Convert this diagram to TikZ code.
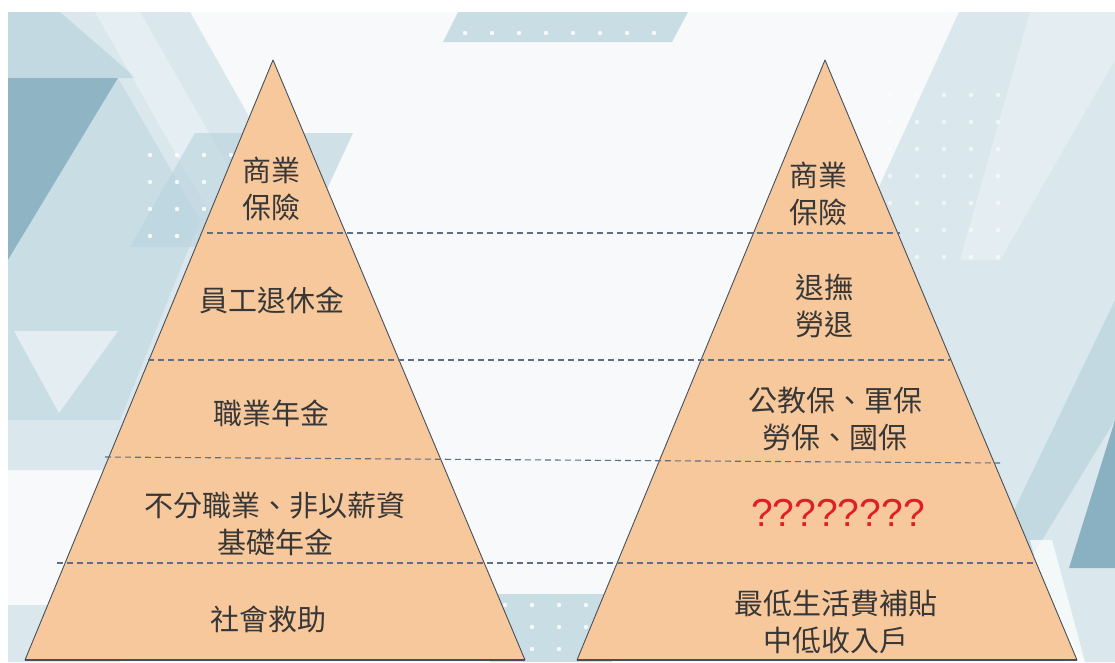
\documentclass[tikz,border=0pt]{standalone}
\usepackage{fontspec}
\setmainfont{Liberation Sans}
\newfontfamily\cjk{Noto Sans CJK TC}
\definecolor{peach}{RGB}{247,200,156}
\definecolor{edgec}{RGB}{70,80,92}
\definecolor{dashc}{RGB}{95,110,130}
\definecolor{txt}{RGB}{55,55,55}
\definecolor{qred}{RGB}{225,30,35}
\definecolor{bgA}{RGB}{218,232,238}
\definecolor{bgB}{RGB}{186,212,222}
\definecolor{bgC}{RGB}{125,168,186}
\definecolor{bgbase}{RGB}{247,249,250}
\begin{document}
\begin{tikzpicture}[x=1pt,y=-1pt,
  pyr/.style={fill=peach,draw=edgec,line width=0.9pt,line join=round},
  basel/.style={draw=edgec,line width=2pt},
  lvl/.style={draw=dashc,line width=1.1pt,dash pattern=on 6pt off 4pt},
  lab/.style={font=\cjk\fontsize{29}{37}\selectfont,text=txt,align=center,inner sep=0pt},
  qlab/.style={font=\fontsize{39}{44}\selectfont,text=qred,inner sep=0pt},
  dotc/.style={fill=white,opacity=0.85}
]
\useasboundingbox (0,0) rectangle (1115,662);
\fill[white] (0,0) rectangle (1115,662);
\fill[bgbase] (8,12) rectangle (1115,662);
% ---- background, left
\fill[bgA] (8,12) -- (190,12) -- (330,260) -- (210,470) -- (8,470) -- cycle;
\fill[bgB,opacity=0.7] (8,12) -- (60,12) -- (136,78) -- (8,78) -- cycle;
\fill[bgC,opacity=0.8] (8,78) -- (118,78) -- (8,260) -- cycle;
\fill[white,opacity=0.3] (95,12) -- (140,12) -- (310,310) -- (265,310) -- cycle;
\fill[bgB,opacity=0.5] (8,260) -- (118,78) -- (200,220) -- (120,420) -- (8,420) -- cycle;
\fill[white,opacity=0.5] (14,331) -- (118,331) -- (59,413) -- cycle;
\fill[bgA] (8,605) -- (140,605) -- (120,662) -- (8,662) -- cycle;
\fill[bgB,opacity=0.65] (195,133) -- (353,133) -- (300,247) -- (130,247) -- cycle;
\foreach \i in {0,...,6} \foreach \j in {0,...,3}
  \fill[dotc] (150+\i*27,155+\j*27) circle (2.2pt);
% ---- top banner
\fill[bgB,opacity=0.75] (458,12) -- (688,12) -- (672,42) -- (443,42) -- cycle;
\foreach \i in {0,...,7} \fill[dotc] (465+\i*27,33) circle (2.2pt);
% ---- right
\fill[bgA] (959,12) -- (1115,12) -- (1115,662) -- (1085,662) -- (940,420) -- (866,215) -- cycle;
\fill[white,opacity=0.25] (1030,12) -- (1115,12) -- (1115,60) -- (1000,260) -- (960,260) -- cycle;
\foreach \i in {0,...,4} \foreach \j in {0,...,6}
  \fill[dotc,opacity=0.6] (890+\i*27,95+\j*27) circle (2.2pt);
\fill[bgB,opacity=0.7] (1115,300) -- (1115,420) -- (1030,560) -- (990,560) -- cycle;
\fill[bgC,opacity=0.85] (1115,420) -- (1115,568) -- (1069,568) -- cycle;
\fill[white,opacity=0.7] (1030,540) -- (1052,540) -- (1085,662) -- (1063,662) -- cycle;
% ---- bottom middle
\fill[bgB,opacity=0.75] (490,594) -- (612,594) -- (612,662) -- (490,662) -- cycle;
\foreach \i in {0,...,3} \foreach \j in {0,...,2}
  \fill[dotc] (505+\i*27,605+\j*22) circle (2.2pt);
% ---- pyramids
\path[pyr] (273,60) coordinate (La) -- (525,660) coordinate (Lr) -- (25,660) coordinate (Ll) -- cycle;
\path[basel] (Ll) -- (Lr);
\path[pyr] (825,60) coordinate (Ra) -- (1077,660) coordinate (Rr) -- (577,660) coordinate (Rl) -- cycle;
\path[basel] (Rl) -- (Rr);
% ---- level lines
\coordinate (d1a) at (207,233); \coordinate (d1b) at (900,233);
\coordinate (d2a) at (148,360); \coordinate (d2b) at (950,360);
\coordinate (d3a) at (105,457); \coordinate (d3b) at (1000,463);
\coordinate (d4a) at (57,563);  \coordinate (d4b) at (1035,563);
\draw[lvl] (d1a) -- (d1b);
\draw[lvl] (d2a) -- (d2b);
\draw[lvl] (d3a) -- (d3b);
\draw[lvl] (d4a) -- (d4b);
% ---- labels left
\node[lab] (l1) at (271,188.5) {商業\\保險};
\node[lab] (l2) at (272,300) {員工退休金};
\node[lab] (l3) at (271,413) {職業年金};
\node[lab] (l4) at (275,523.5) {不分職業、非以薪資\\基礎年金};
\node[lab] (l5) at (268,619) {社會救助};
% ---- labels right
\node[lab] (r1) at (818,193.5) {商業\\保險};
\node[lab] (r2) at (824,306.5) {退撫\\勞退};
\node[lab] (r3) at (835,419.5) {公教保、軍保\\勞保、國保};
\node[qlab] (r4) at (838,513) {????????};
\node[lab] (r5) at (836,621.5) {最低生活費補貼\\中低收入戶};
\end{tikzpicture}
\end{document}
